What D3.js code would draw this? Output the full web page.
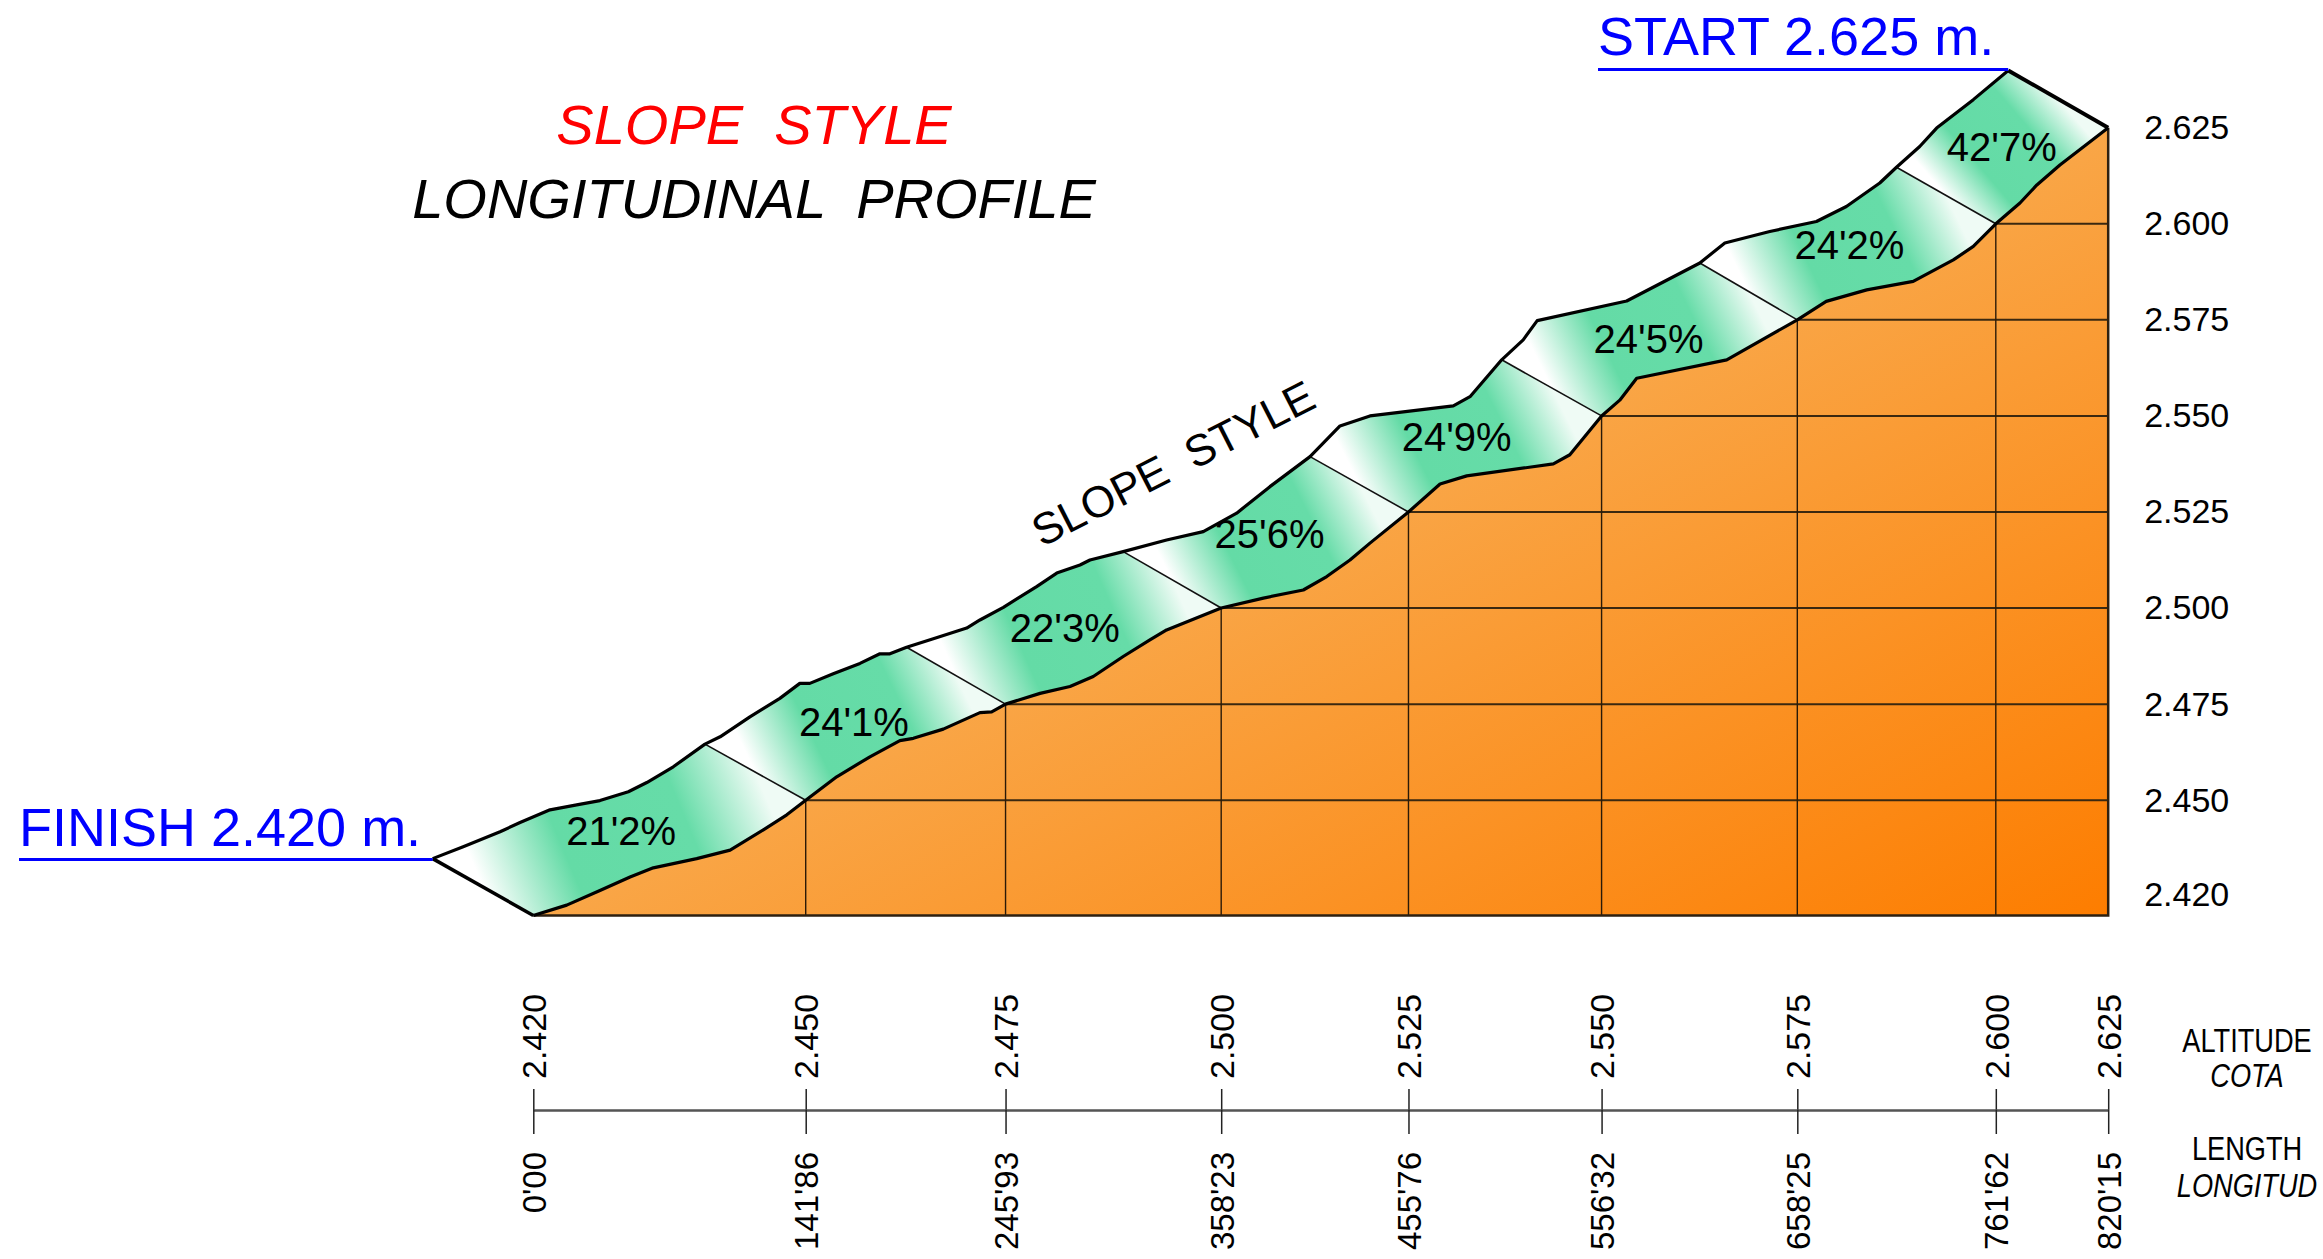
<!DOCTYPE html>
<html>
<head>
<meta charset="utf-8">
<script src="https://cdn.jsdelivr.net/npm/d3@7"></script>
<style>
body{margin:0;background:#fff}
svg{display:block}
text{font-family:"Liberation Sans",Arial,sans-serif}
</style>
</head>
<body>
<svg id="chart" width="2323" height="1259"></svg>
<script>
// stations: where the ground crosses each 25 m contour
const stationLength = [0, 141.86, 245.93, 358.23, 455.76, 556.32, 658.25, 761.62, 820.15];
const stationAltitude = [2420, 2450, 2475, 2500, 2525, 2550, 2575, 2600, 2625];
const slopePercent = [21.2, 24.1, 22.3, 25.6, 24.9, 24.5, 24.2, 42.7];
const altitudeTicks = [2625, 2600, 2575, 2550, 2525, 2500, 2475, 2450, 2420];

// ground profile (bottom of the snow band)
const groundLength = [0, 17.4, 34.7, 50.4, 62.5, 85.1, 102.5, 119.8, 132.0, 141.86,
  158.0, 175.3, 190.9, 197.9, 213.5, 232.6, 238.7, 245.93,
  263.9, 279.5, 291.6, 307.2, 321.1, 329.8, 358.23,
  380.2, 401.0, 413.2, 425.3, 435.7, 455.76,
  472.2, 486.1, 531.2, 539.8, 556.32,
  565.8, 574.6, 621.5, 658.25,
  673.3, 694.4, 718.6, 739.5, 749.9, 761.62,
  774.2, 783.0, 795.0, 820.15];
const groundAltitude = [2420, 2422.7, 2426.5, 2430.0, 2432.4, 2434.8, 2437.0, 2442.3, 2446.2, 2450,
  2456.1, 2461.3, 2465.5, 2466.1, 2468.5, 2472.8, 2473.0, 2475,
  2477.8, 2479.6, 2482.2, 2487.4, 2491.7, 2494.3, 2500,
  2502.6, 2504.7, 2508.2, 2512.5, 2516.9, 2525,
  2532.3, 2534.4, 2537.5, 2539.9, 2550,
  2554.1, 2559.8, 2564.6, 2575,
  2579.8, 2582.8, 2585.0, 2590.6, 2594.1, 2600,
  2605.4, 2610.1, 2615.3, 2625];

// top of the snow band
const snowLength = [-52.4, -36.5, -17.3, -6.9, 8.7, 22.6, 34.7, 49.5, 59.1, 72.9,
  89.4, 97.3, 112.8, 128.4, 138.8, 144.0, 156.2, 170.1, 180.5, 185.7,
  194.4, 208.3, 225.7, 232.6, 244.8, 262.1, 272.6, 284.7, 289.9, 307.2,
  329.8, 348.9, 366.3, 383.6, 404.5, 420.1, 435.7, 479.1, 487.8, 504.3,
  515.5, 522.8, 569.4, 607.5, 620.5, 643.9, 668.2, 683.8, 701.2, 709.9,
  722.0, 730.8, 749.9, 768.1];
const snowAltitude = [2434.8, 2437.9, 2441.8, 2444.2, 2447.5, 2448.8, 2449.9, 2452.2, 2454.6, 2458.7,
  2464.6, 2466.5, 2471.7, 2476.5, 2480.4, 2480.4, 2482.9, 2485.6, 2488.1, 2488.1,
  2489.8, 2492.0, 2494.8, 2496.9, 2500.2, 2505.6, 2509.1, 2511.2, 2512.5, 2514.7,
  2517.7, 2519.9, 2524.7, 2531.6, 2539.4, 2547.4, 2550.0, 2552.6, 2555.0, 2564.6,
  2569.8, 2574.8, 2579.9, 2589.8, 2595.0, 2598.0, 2600.6, 2604.5, 2610.6, 2614.7,
  2620.1, 2624.9, 2632.3, 2639.9];

const fmtAlt = d => (d / 1000).toFixed(3);
const fmtLen = d => d.toFixed(2).replace('.', "'");
const fmtPct = d => d.toFixed(1).replace('.', "'") + '%';

const svg = d3.select('#chart');
const defs = svg.append('defs');

const x = d3.scaleLinear().domain(d3.extent(stationLength)).range([533.3, 2108.2]);
const y = d3.scaleLinear().domain(d3.extent(stationAltitude)).range([915.5, 127.7]);

const ground = groundLength.map((l, i) => [x(l), y(groundAltitude[i])]);
const snow = snowLength.map((l, i) => [x(l), y(snowAltitude[i])]);
const line = d3.line();
const lastLen = stationLength[stationLength.length - 1];
const lastAlt = stationAltitude[stationAltitude.length - 1];
const baseAlt = stationAltitude[0];

// orange terrain
const og = defs.append('linearGradient').attr('id', 'terrain')
  .attr('x1', 0).attr('y1', 0).attr('x2', 1).attr('y2', 1);
og.append('stop').attr('offset', 0).attr('stop-color', '#fcc37c');
og.append('stop').attr('offset', 0.5).attr('stop-color', '#f9a647');
og.append('stop').attr('offset', 1).attr('stop-color', '#fd7d00');

svg.append('path')
  .attr('d', line(ground.concat([[x(lastLen), y(baseAlt)]])) + 'Z')
  .attr('fill', 'url(#terrain)');

// grid inside the terrain
const inner = d3.range(1, stationLength.length - 1);
svg.selectAll('.hgrid').data(inner).enter().append('line')
  .attr('x1', i => x(stationLength[i])).attr('x2', x(lastLen))
  .attr('y1', i => y(stationAltitude[i])).attr('y2', i => y(stationAltitude[i]))
  .attr('stroke', '#3a2810').attr('stroke-width', 2);
svg.selectAll('.vgrid').data(inner).enter().append('line')
  .attr('x1', i => x(stationLength[i])).attr('x2', i => x(stationLength[i]))
  .attr('y1', i => y(stationAltitude[i])).attr('y2', y(baseAlt))
  .attr('stroke', '#2a1a08').attr('stroke-width', 1.4);

svg.append('path')
  .attr('d', line([[x(0), y(baseAlt)], [x(lastLen), y(baseAlt)], [x(lastLen), y(lastAlt)]]))
  .attr('fill', 'none').attr('stroke', '#2e2010').attr('stroke-width', 2.5);

// snow band split into sections
const shift = groundLength[0] - snowLength[0];
const breaks = stationLength.map(s => d3.leastIndex(snowLength, l => Math.abs(l - (s - shift))));
const gIdx = stationLength.map(s => groundLength.indexOf(s));
const sepMid = stationLength.map((s, i) => [
  (snow[breaks[i]][0] + ground[gIdx[i]][0]) / 2,
  (snow[breaks[i]][1] + ground[gIdx[i]][1]) / 2]);

const sectionPts = slopePercent.map((p, i) => snow.slice(breaks[i], breaks[i + 1] + 1)
  .concat(ground.slice(gIdx[i], gIdx[i + 1] + 1).reverse()));

slopePercent.forEach((p, i) => {
  const gr = defs.append('linearGradient').attr('id', 'band' + i)
    .attr('gradientUnits', 'userSpaceOnUse')
    .attr('x1', sepMid[i][0]).attr('y1', sepMid[i][1])
    .attr('x2', sepMid[i + 1][0]).attr('y2', sepMid[i + 1][1]);
  gr.append('stop').attr('offset', 0).attr('stop-color', '#ffffff');
  gr.append('stop').attr('offset', 0.3).attr('stop-color', '#64dba6');
  gr.append('stop').attr('offset', 0.72).attr('stop-color', '#66dca8');
  gr.append('stop').attr('offset', 1).attr('stop-color', '#effbf5');
  svg.append('path').attr('d', line(sectionPts[i]) + 'Z').attr('fill', 'url(#band' + i + ')');
});

// section separators
svg.selectAll('.sep').data(d3.range(1, stationLength.length - 1)).enter().append('line')
  .attr('x1', i => snow[breaks[i]][0]).attr('y1', i => snow[breaks[i]][1])
  .attr('x2', i => ground[gIdx[i]][0]).attr('y2', i => ground[gIdx[i]][1])
  .attr('stroke', '#111').attr('stroke-width', 1.6);

// outlines
svg.append('path').attr('d', line(snow)).attr('fill', 'none')
  .attr('stroke', '#000').attr('stroke-width', 3.2).attr('stroke-linejoin', 'round');
svg.append('path').attr('d', line(ground)).attr('fill', 'none')
  .attr('stroke', '#000').attr('stroke-width', 3.2).attr('stroke-linejoin', 'round');
svg.append('path').attr('d', line([snow[0], ground[0]])).attr('fill', 'none')
  .attr('stroke', '#000').attr('stroke-width', 3.5);
svg.append('path').attr('d', line([snow[snow.length - 1], ground[ground.length - 1]])).attr('fill', 'none')
  .attr('stroke', '#000').attr('stroke-width', 4);

// slope labels, centred between the two separators of each section
svg.selectAll('.pct').data(slopePercent).enter().append('text')
  .attr('x', (d, i) => (sepMid[i][0] + sepMid[i + 1][0] + d3.polygonCentroid(sectionPts[i])[0]) / 3)
  .attr('y', (d, i) => (sepMid[i][1] + sepMid[i + 1][1] + d3.polygonCentroid(sectionPts[i])[1]) / 3)
  .attr('text-anchor', 'middle').attr('dominant-baseline', 'central')
  .attr('font-size', 40).attr('fill', '#000')
  .text(fmtPct);

// right altitude axis
const yAxis = svg.append('g').attr('transform', `translate(${x(lastLen)},0)`)
  .call(d3.axisRight(y).tickValues(altitudeTicks).tickSize(0).tickPadding(36).tickFormat(fmtAlt));
yAxis.select('.domain').remove();
yAxis.selectAll('text').attr('font-size', 34).attr('fill', '#000')
  .attr('font-family', '"Liberation Sans",Arial,sans-serif')
  .attr('y', d => d === baseAlt ? -21 : 0);

// bottom scale: altitude above, length below
const axisY = 1110;
const topAxis = svg.append('g').attr('transform', `translate(0,${axisY})`)
  .call(d3.axisTop(x).tickValues(stationLength).tickSize(21).tickSizeOuter(0)
    .tickFormat((d, i) => fmtAlt(stationAltitude[i])));
topAxis.selectAll('text').attr('transform', 'rotate(-90)')
  .attr('x', 31).attr('y', 0).attr('dy', '0.36em').attr('text-anchor', 'start')
  .attr('font-size', 34).attr('fill', '#000').attr('font-family', '"Liberation Sans",Arial,sans-serif');

const botAxis = svg.append('g').attr('transform', `translate(0,${axisY})`)
  .call(d3.axisBottom(x).tickValues(stationLength).tickSize(24).tickSizeOuter(0).tickFormat(fmtLen));
botAxis.selectAll('text').attr('transform', 'rotate(-90)')
  .attr('x', -42).attr('y', 0).attr('dy', '0.36em').attr('text-anchor', 'end')
  .attr('font-size', 33).attr('fill', '#000').attr('font-family', '"Liberation Sans",Arial,sans-serif');
svg.selectAll('.tick line').attr('stroke', '#222').attr('stroke-width', 1.5);
svg.selectAll('.domain').attr('stroke', '#555').attr('stroke-width', 2.2);

const side = [
  {t: 'ALTITUDE', y: 1052, it: false},
  {t: 'COTA', y: 1087, it: true},
  {t: 'LENGTH', y: 1160, it: false},
  {t: 'LONGITUD', y: 1197, it: true}
];
svg.selectAll('.side').data(side).enter().append('text')
  .attr('transform', d => `translate(2247,${d.y}) scale(0.8,1)`)
  .attr('text-anchor', 'middle')
  .attr('font-size', 34).attr('font-style', d => d.it ? 'italic' : 'normal')
  .text(d => d.t);

// titles
svg.append('text').attr('x', 754).attr('y', 144).attr('text-anchor', 'middle')
  .attr('font-size', 56).attr('font-style', 'italic').attr('fill', '#ff0000')
  .style('white-space', 'pre').text('SLOPE  STYLE');
svg.append('text').attr('x', 754).attr('y', 218).attr('text-anchor', 'middle')
  .attr('font-size', 56).attr('font-style', 'italic').attr('fill', '#000')
  .style('white-space', 'pre').text('LONGITUDINAL  PROFILE');

svg.append('text')
  .attr('transform', `translate(${x(336.8)},${y(2534.1)}) rotate(-27)`)
  .attr('text-anchor', 'middle').attr('font-size', 44).attr('fill', '#000')
  .style('white-space', 'pre').text('SLOPE  STYLE');

// start / finish
const sEnd = snow[snow.length - 1], sStart = snow[0];
svg.append('text').attr('x', 1598).attr('y', 55).attr('font-size', 54).attr('fill', '#0000ff')
  .text('START ' + fmtAlt(lastAlt) + ' m.');
svg.append('line').attr('x1', 1598).attr('x2', sEnd[0]).attr('y1', sEnd[1] - 1).attr('y2', sEnd[1] - 1)
  .attr('stroke', '#0000ff').attr('stroke-width', 3);
svg.append('text').attr('x', 19).attr('y', 846).attr('font-size', 54).attr('fill', '#0000ff')
  .text('FINISH ' + fmtAlt(baseAlt) + ' m.');
svg.append('line').attr('x1', 19).attr('x2', sStart[0]).attr('y1', sStart[1] + 1).attr('y2', sStart[1] + 1)
  .attr('stroke', '#0000ff').attr('stroke-width', 3);
</script>
</body>
</html>
